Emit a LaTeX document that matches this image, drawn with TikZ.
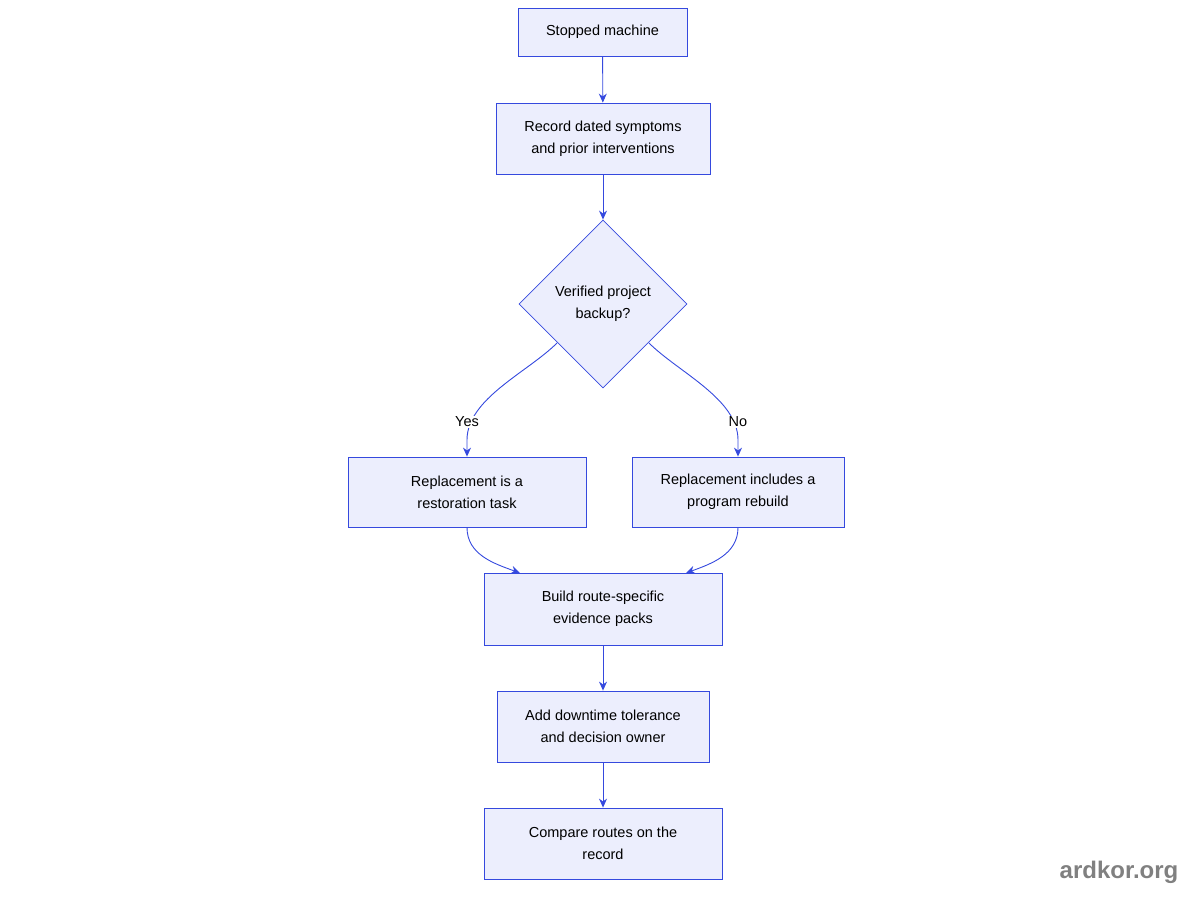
\documentclass[tikz,border=0pt]{standalone}
\usepackage{fontspec}
\setmainfont{Liberation Sans}
\usetikzlibrary{shapes.geometric,arrows.meta}
\definecolor{bfill}{HTML}{ECEEFD}
\definecolor{bline}{HTML}{3549DE}
\begin{document}
\begin{tikzpicture}[x=1pt,y=-1pt,
  box/.style={draw=bline,fill=bfill,line width=0.8pt,align=center,font=\fontsize{14.5}{22}\selectfont,inner sep=0pt},
  arr/.style={draw=bline,line width=0.9pt,-{Stealth[length=9pt,width=8pt]}},
  lab/.style={fill=white,font=\fontsize{14.5}{17}\selectfont,inner sep=1pt}]
\useasboundingbox (0,0) rectangle (1200,900);
\node[box,minimum width=169pt,minimum height=48pt] (a) at (602.5,32) {Stopped machine};
\node[box,minimum width=214pt,minimum height=71pt] (b) at (603,138.5) {Record dated symptoms\\and prior interventions};
\node[box,diamond,minimum width=168pt,minimum height=168pt,aspect=1] (c) at (603,304) {Verified project\\backup?};
\node[box,minimum width=238pt,minimum height=70pt] (d) at (467,492) {Replacement is a\\restoration task};
\node[box,minimum width=212pt,minimum height=70pt] (e) at (738,492) {Replacement includes a\\program rebuild};
\node[box,minimum width=238pt,minimum height=72pt] (f) at (603,609) {Build route-specific\\evidence packs};
\node[box,minimum width=212pt,minimum height=71pt] (g) at (603,726.5) {Add downtime tolerance\\and decision owner};
\node[box,minimum width=238pt,minimum height=71pt] (h) at (603,843.5) {Compare routes on the\\record};
\draw[arr] (a) -- (b);
\draw[arr] (b) -- (c);
\draw[arr] (557,343) to[out=-135,in=90,looseness=0.8] (467,440) -- (d.north);
\draw[arr] (649,343) to[out=-45,in=90,looseness=0.8] (738,440) -- (e.north);
\node[lab] (y) at (467,422) {Yes};
\node[lab] (n) at (738,422) {No};
\draw[arr] (d.south) to[out=-90,in=160] (520,573);
\draw[arr] (e.south) to[out=-90,in=20] (686,573);
\draw[arr] (f) -- (g);
\draw[arr] (g) -- (h);
\node[font=\bfseries\fontsize{24}{28}\selectfont,text=gray] (w) at (1119,872) {ardkor.org};
\end{tikzpicture}
\end{document}
